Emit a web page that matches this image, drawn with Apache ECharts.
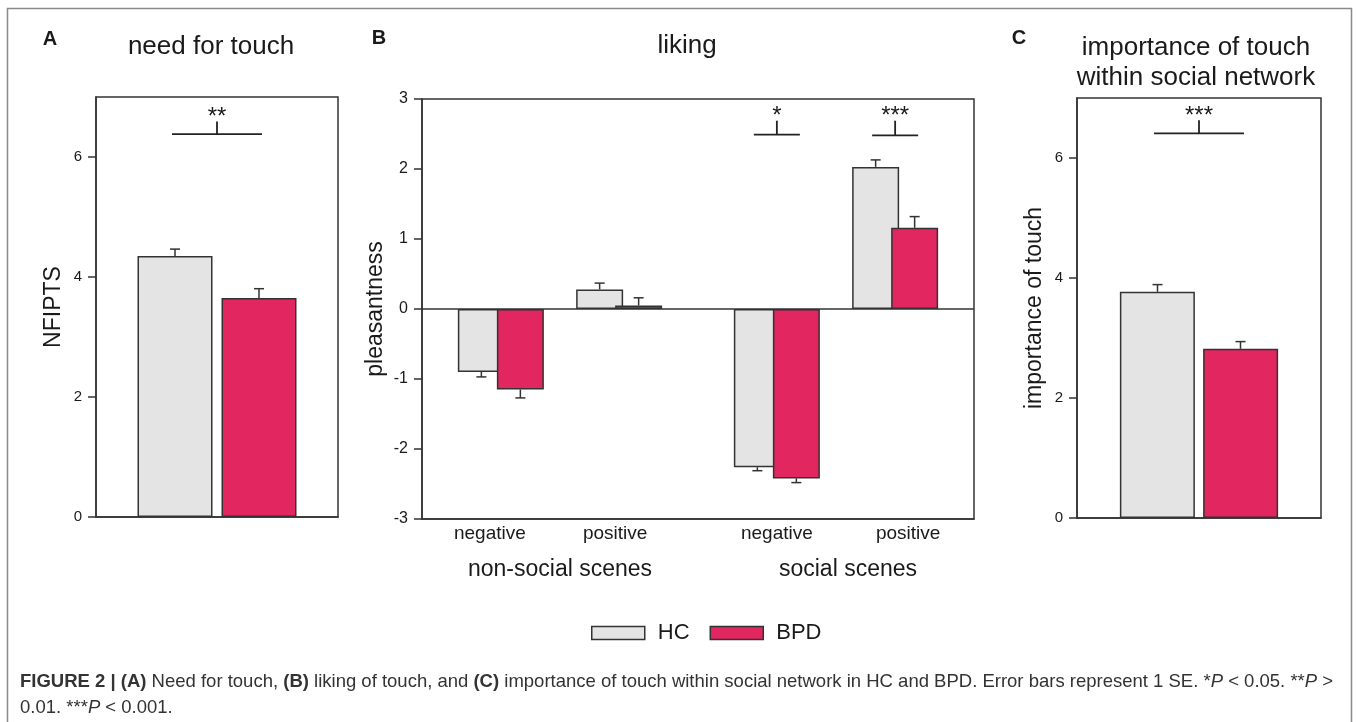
<!DOCTYPE html>
<html>
<head>
<meta charset="utf-8">
<script src="https://cdn.jsdelivr.net/npm/echarts@6/dist/echarts.min.js"></script>
<style>
  html, body { margin: 0; padding: 0; background: #fff; }
  #main { width: 1357px; height: 722px; }
</style>
</head>
<body>
<div id="main"></div>
<script>
// ---- data ----
// A: need for touch (NFIPTS)
var hcA = [4.35], hcA_se = [0.115];
var bpdA = [3.65], bpdA_se = [0.155];
var sigA = ['**'], sigA_bar = [6.38], sigA_top = [6.59];
var ticksA = [0, 2, 4, 6];

// B: liking (pleasantness)
var scenes = ['negative', 'positive', 'negative', 'positive'];
var sceneGroups = ['non-social scenes', 'social scenes'];
var hcB = [-0.90, 0.28, -2.26, 2.03], hcB_se = [0.07, 0.09, 0.05, 0.10];
var bpdB = [-1.15, 0.05, -2.42, 1.16], bpdB_se = [0.12, 0.11, 0.06, 0.16];
var sigB_cat = [2, 3], sigB = ['*', '***'], sigB_bar = [2.49, 2.48], sigB_top = [2.69, 2.69];
var ticksB = [-3, -2, -1, 0, 1, 2, 3];

// C: importance of touch within social network
var hcC = [3.77], hcC_se = [0.12];
var bpdC = [2.82], bpdC_se = [0.12];
var sigC = ['***'], sigC_bar = [6.41], sigC_top = [6.63];
var ticksC = [0, 2, 4, 6];

var groups = ['HC', 'BPD'];

// ---- layout / style ----
var FONT = '"Liberation Sans", Arial, sans-serif';
var INK = '#1a1a1a';
var LINE = '#333';
var HC_COLOR = '#e4e4e4';
var BPD_COLOR = '#e2265f';
// panel B puts a wider gap between the two scene groups: 15 slots, bars sit on 2,5,9,12
var slotB = [2, 5, 9, 12];
var nSlotB = 15;
// the scene labels in the original are not quite centred under their bars
var labelNudgeB = ['l22', 'l8', 'c', 'r26'];

function padB(arr) {
    var out = [];
    for (var i = 0; i < nSlotB; i++) out.push('-');
    for (var k = 0; k < arr.length; k++) out[slotB[k]] = arr[k];
    return out;
}
var axisCatsB = padB(scenes).map(function (v) { return v === '-' ? '' : v; });

function errData(vals, ses, slots) {
    return vals.map(function (v, i) { return [slots ? slots[i] : i, v, ses[i]]; });
}

function errRender(dx) {
    return function (params, api) {
        var v = api.value(1), e = api.value(2);
        var dir = v < 0 ? -1 : 1;
        var p0 = api.coord([api.value(0), v]);
        var p1 = api.coord([api.value(0), v + dir * e]);
        var cx = p0[0] + dx;
        var st = { stroke: LINE, lineWidth: 1.5 };
        return {
            type: 'group',
            children: [
                { type: 'line', shape: { x1: cx, y1: p0[1], x2: cx, y2: p1[1] }, style: st },
                { type: 'line', shape: { x1: cx - 5, y1: p1[1], x2: cx + 5, y2: p1[1] }, style: st }
            ]
        };
    };
}

function sigRender(hw, labels) {
    return function (params, api) {
        var pl = api.coord([api.value(0), api.value(1)]);
        var pt = api.coord([api.value(0), api.value(2)]);
        var st = { stroke: '#222', lineWidth: 1.8 };
        return {
            type: 'group',
            children: [
                { type: 'line', shape: { x1: pl[0] - hw, y1: pl[1], x2: pl[0] + hw, y2: pl[1] }, style: st },
                { type: 'line', shape: { x1: pl[0], y1: pl[1], x2: pl[0], y2: pt[1] }, style: st },
                { type: 'text', x: pl[0], y: pt[1] - 4,
                  style: { text: labels[params.dataIndex], fill: INK, fontSize: 24, fontFamily: FONT,
                           align: 'center', verticalAlign: 'middle', textAlign: 'center', textVerticalAlign: 'middle' } }
            ]
        };
    };
}

function yAxisOf(idx, min, max, ticks, name, gap, labelSize) {
    return {
        gridIndex: idx, type: 'value', min: min, max: max,
        name: name, nameLocation: 'middle', nameGap: gap, nameRotate: 90,
        nameTextStyle: { fontSize: 23, color: INK, fontFamily: FONT },
        axisLine: { show: true, lineStyle: { color: LINE, width: 1.5 } },
        axisTick: { show: true, inside: false, length: 8, customValues: ticks, lineStyle: { color: LINE, width: 1.5 } },
        axisLabel: { fontSize: labelSize, color: INK, margin: 14, fontFamily: FONT, customValues: ticks },
        splitLine: { show: false }
    };
}

function txt(text, x, y, size, weight, align) {
    return {
        type: 'text', x: x, y: y, silent: true,
        style: { text: text, fill: INK, fontSize: size, fontWeight: weight || 'normal', fontFamily: FONT,
                 align: align || 'center', verticalAlign: 'middle',
                 textAlign: align || 'center', textVerticalAlign: 'middle' }
    };
}

function caption(text, y) {
    return {
        type: 'text', x: 20, y: y, silent: true,
        style: { text: text, fill: '#333', fontSize: 18.5, fontFamily: FONT,
                 verticalAlign: 'middle', textVerticalAlign: 'middle',
                 rich: { b: { fontWeight: 'bold', fontSize: 18.5, fill: '#333', fontFamily: FONT },
                         i: { fontStyle: 'italic', fontSize: 18.5, fill: '#333', fontFamily: FONT } } }
    };
}

var sceneRich = {};
labelNudgeB.forEach(function (k) {
    var n = parseInt(k.slice(1), 10) || 0;
    var pad = k[0] === 'l' ? [0, n, 0, 0] : (k[0] === 'r' ? [0, 0, 0, n] : [0, 0, 0, 0]);
    sceneRich[k] = { fontSize: 19, color: INK, fontFamily: FONT, padding: pad };
});

var barBase = { borderColor: LINE, borderWidth: 1.5 };

var chart = echarts.init(document.getElementById('main'));
var option = {
    animation: false,
    textStyle: { fontFamily: FONT },
    grid: [
        { left: 96, top: 97, width: 242, height: 420, show: true, borderColor: LINE, borderWidth: 1.5 },
        { left: 422, top: 99, width: 552, height: 420, show: true, borderColor: LINE, borderWidth: 1.5 },
        { left: 1077, top: 98, width: 244, height: 420, show: true, borderColor: LINE, borderWidth: 1.5 }
    ],
    xAxis: [
        { gridIndex: 0, type: 'category', data: ['need for touch'],
          axisLine: { lineStyle: { color: LINE, width: 1.5 } }, axisTick: { show: false }, axisLabel: { show: false } },
        { gridIndex: 1, type: 'category', data: axisCatsB, boundaryGap: false,
          axisLine: { onZero: false, lineStyle: { color: LINE, width: 1.5 } }, axisTick: { show: false },
          axisLabel: {
              interval: 0, fontSize: 19, color: INK, margin: 5, fontFamily: FONT, rich: sceneRich,
              formatter: function (v, i) {
                  var k = slotB.indexOf(i);
                  return k < 0 ? '' : '{' + labelNudgeB[k] + '|' + v + '}';
              }
          } },
        { gridIndex: 2, type: 'category', data: ['importance of touch'],
          axisLine: { lineStyle: { color: LINE, width: 1.5 } }, axisTick: { show: false }, axisLabel: { show: false } }
    ],
    yAxis: [
        yAxisOf(0, 0, 7, ticksA, 'NFIPTS', 31, 15),
        yAxisOf(1, -3, 3, ticksB, 'pleasantness', 35, 16),
        yAxisOf(2, 0, 7, ticksC, 'importance of touch', 31, 15)
    ],
    legend: {
        data: groups, left: 586, top: 617, icon: 'rect', itemWidth: 53, itemHeight: 13, itemGap: 20,
        itemStyle: { borderColor: LINE, borderWidth: 1.5 },
        textStyle: { fontSize: 22, color: INK, fontFamily: FONT, padding: [0, 0, 0, 8] }
    },
    series: [
        // A
        { name: 'HC', type: 'bar', xAxisIndex: 0, yAxisIndex: 0, data: hcA, barWidth: 75, barGap: '12%',
          itemStyle: Object.assign({ color: HC_COLOR }, barBase) },
        { name: 'BPD', type: 'bar', xAxisIndex: 0, yAxisIndex: 0, data: bpdA, barWidth: 75, barGap: '12%',
          itemStyle: Object.assign({ color: BPD_COLOR }, barBase) },
        { type: 'custom', xAxisIndex: 0, yAxisIndex: 0, data: errData(hcA, hcA_se), renderItem: errRender(-42), z: 5 },
        { type: 'custom', xAxisIndex: 0, yAxisIndex: 0, data: errData(bpdA, bpdA_se), renderItem: errRender(42), z: 5 },
        { type: 'custom', xAxisIndex: 0, yAxisIndex: 0, data: sigA.map(function (s, i) { return [0, sigA_bar[i], sigA_top[i]]; }),
          renderItem: sigRender(45, sigA), z: 5 },
        // B
        { name: 'HC', type: 'bar', xAxisIndex: 1, yAxisIndex: 1, data: padB(hcB), barWidth: 47, barGap: '-17%',
          itemStyle: Object.assign({ color: HC_COLOR }, barBase),
          markLine: { silent: true, symbol: 'none', label: { show: false },
                      lineStyle: { color: LINE, width: 1.5, type: 'solid' }, data: [{ yAxis: 0 }] } },
        { name: 'BPD', type: 'bar', xAxisIndex: 1, yAxisIndex: 1, data: padB(bpdB), barWidth: 47, barGap: '-17%',
          itemStyle: Object.assign({ color: BPD_COLOR }, barBase) },
        { type: 'custom', xAxisIndex: 1, yAxisIndex: 1, data: errData(hcB, hcB_se, slotB), renderItem: errRender(-19.5), z: 5 },
        { type: 'custom', xAxisIndex: 1, yAxisIndex: 1, data: errData(bpdB, bpdB_se, slotB), renderItem: errRender(19.5), z: 5 },
        { type: 'custom', xAxisIndex: 1, yAxisIndex: 1,
          data: sigB.map(function (s, i) { return [slotB[sigB_cat[i]], sigB_bar[i], sigB_top[i]]; }),
          renderItem: sigRender(23, sigB), z: 5 },
        // C
        { name: 'HC', type: 'bar', xAxisIndex: 2, yAxisIndex: 2, data: hcC, barWidth: 75, barGap: '11%',
          itemStyle: Object.assign({ color: HC_COLOR }, barBase) },
        { name: 'BPD', type: 'bar', xAxisIndex: 2, yAxisIndex: 2, data: bpdC, barWidth: 75, barGap: '11%',
          itemStyle: Object.assign({ color: BPD_COLOR }, barBase) },
        { type: 'custom', xAxisIndex: 2, yAxisIndex: 2, data: errData(hcC, hcC_se), renderItem: errRender(-41.5), z: 5 },
        { type: 'custom', xAxisIndex: 2, yAxisIndex: 2, data: errData(bpdC, bpdC_se), renderItem: errRender(41.5), z: 5 },
        { type: 'custom', xAxisIndex: 2, yAxisIndex: 2, data: sigC.map(function (s, i) { return [0, sigC_bar[i], sigC_top[i]]; }),
          renderItem: sigRender(45, sigC), z: 5 }
    ],
    graphic: [
        // figure frame
        { type: 'rect', silent: true, shape: { x: 7.5, y: 8.5, width: 1344, height: 760 },
          style: { fill: 'none', stroke: '#8a8a8a', lineWidth: 1.5 } },
        txt('A', 50, 39, 20, 'bold'),
        txt('B', 379, 38, 20, 'bold'),
        txt('C', 1019, 38, 20, 'bold'),
        txt('need for touch', 211, 47, 26),
        txt('liking', 687, 46, 26),
        txt('importance of touch', 1196, 48, 26),
        txt('within social network', 1196, 78, 26),
        txt(sceneGroups[0], 560, 570, 23),
        txt(sceneGroups[1], 848, 570, 23),
        caption('{b|FIGURE 2 | (A)} Need for touch, {b|(B)} liking of touch, and {b|(C)} importance of touch within social network in HC and BPD. Error bars represent 1 SE. *{i|P} < 0.05. **{i|P} >', 682),
        caption('0.01. ***{i|P} < 0.001.', 708)
    ]
};
chart.setOption(option);
</script>
</body>
</html>
